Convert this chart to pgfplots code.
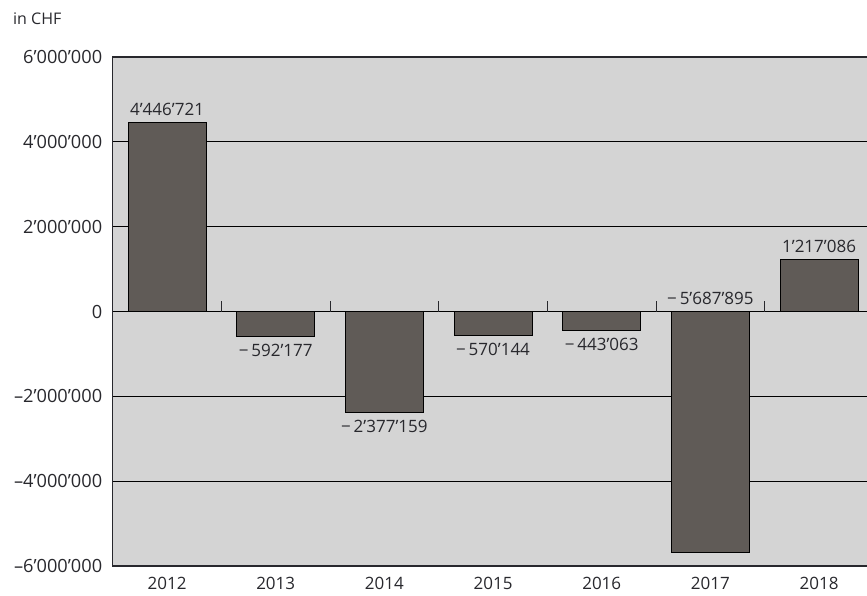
\documentclass[border=0pt]{standalone}
\usepackage{pgfplots}
\pgfplotsset{compat=1.18}
\usepackage{fontspec}
\setmainfont{Open Sans}
\definecolor{bg}{RGB}{212,212,212}
\definecolor{barc}{RGB}{96,91,87}
\definecolor{txt}{RGB}{40,40,45}
\newcommand{\lbl}{\fontsize{17}{20}\selectfont}
\newcommand{\ylbl}{\fontsize{18.2}{21}\selectfont}
\newcommand{\tl}[1]{\textnormal{\lbl #1}}
\newcommand{\ytl}[1]{\textnormal{\ylbl #1}}
\begin{document}
\begin{tikzpicture}
\path[use as bounding box] (0pt,0pt) rectangle (867pt,-595pt);
\node[anchor=west, font=\fontsize{16}{19}\selectfont, text=txt, inner sep=0pt] at (13pt,-19pt) {in CHF};
\begin{axis}[
  at={(112.7pt,-566pt)}, anchor=south west,
  scale only axis, width=760.7pt, height=509pt,
  xmin=-0.5, xmax=6.5, ymin=-6000000, ymax=6000000,
  axis background/.style={fill=bg},
  axis line style={txt, line width=1.1pt},
  ytick={-6000000,-4000000,-2000000,0,2000000,4000000,6000000},
  yticklabels={\ytl{–6’000’000},\ytl{–4’000’000},\ytl{–2’000’000},\ytl{0},\ytl{2’000’000},\ytl{4’000’000},\ytl{6’000’000}},
  xtick={0,1,2,3,4,5,6},
  xticklabels={\tl{2012},\tl{2013},\tl{2014},\tl{2015},\tl{2016},\tl{2017},\tl{2018}},
  major tick length=0pt,
  ymajorgrids, grid style={black, line width=0.8pt},
  tick label style={font=\lbl, text=txt},
  yticklabel style={xshift=-7pt},
  xticklabel style={yshift=-8pt},
  scaled y ticks=false,
]
\addplot[ycomb, txt, line width=0.8pt, mark=none] coordinates {(0.5,240000) (1.5,240000) (2.5,240000) (3.5,240000) (4.5,240000) (5.5,240000)};
\addplot[ybar, bar width=78pt, bar shift=0pt, fill=barc, draw=black, line width=0.9pt,
  nodes near coords, point meta=explicit symbolic,
  nodes near coords style={font=\lbl, text=txt, anchor=south, inner sep=2pt, yshift=5pt}]
  coordinates {(0,4446721)[4’446’721] (6,1217086)[1’217’086]};
\addplot[ybar, bar width=78pt, bar shift=0pt, fill=barc, draw=black, line width=0.9pt,
  nodes near coords, point meta=explicit symbolic,
  nodes near coords style={font=\lbl, text=txt, anchor=north, inner sep=2pt, yshift=-5pt}]
  coordinates {(1,-592177)[−\,592’177] (2,-2377159)[−\,2’377’159] (3,-570144)[−\,570’144] (4,-443063)[−\,443’063]};
\addplot[ybar, bar width=78pt, bar shift=0pt, fill=barc, draw=black, line width=0.9pt]
  coordinates {(5,-5687895)};
\addplot[draw=none, mark=none, nodes near coords, point meta=explicit symbolic,
  nodes near coords style={font=\lbl, text=txt, anchor=south, inner sep=2pt, yshift=5pt}]
  coordinates {(5,0)[−\,5’687’895]};
\end{axis}
\end{tikzpicture}
\end{document}
